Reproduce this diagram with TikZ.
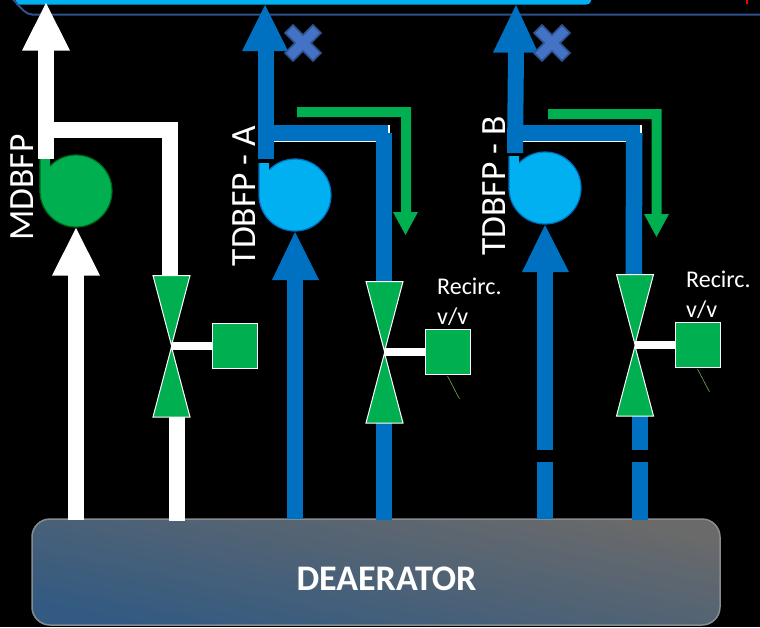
\documentclass[tikz,border=0pt]{standalone}
\usepackage{fontspec}
\setmainfont{Carlito}
\usetikzlibrary{calc}
\definecolor{pipeblue}{HTML}{0070C0}
\definecolor{pumpblue}{HTML}{00B0F0}
\definecolor{vgreen}{HTML}{00B050}
\definecolor{xblue}{HTML}{4472C4}
\definecolor{xedge}{HTML}{2F528F}
\definecolor{railblue}{HTML}{2F528F}
\tikzset{
  wpipe/.style={line width=16pt,white,line join=miter,line cap=butt},
  bpipe/.style={line width=16pt,pipeblue,line join=miter,line cap=butt},
  valvepart/.style={fill=vgreen,draw=white,line width=1pt,line join=miter},
  actuator/.style={rectangle,fill=vgreen,draw=white,line width=1pt,minimum width=45pt,minimum height=45pt,inner sep=0pt},
  stem/.style={line width=8pt,white},
  lead/.style={line width=0.6pt,draw={rgb,255:red,112;green,173;blue,71}},
  crossmark/.style={fill=xblue,draw=xedge,line width=1.5pt,line join=miter},
  biglabel/.style={white,font=\fontsize{35.5pt}{35.5pt}\selectfont,rotate=90,inner sep=0pt},
  smalllabel/.style={white,font=\fontsize{24pt}{28pt}\selectfont,align=left,anchor=north west,inner sep=0pt},
}
\newcommand{\pumpshape}[4]{% cx cy fill edge
  \fill[#3] (#1-36,#2-32) -- (#1-25.9,#2-32) -- (#1-25.9,#2-25)
     arc[start angle=-136,end angle=180,radius=36] -- cycle;
  \draw[#4,line width=1.2pt] (#1-25.9,#2-25)
     arc[start angle=-136,end angle=180,radius=36] -- (#1-36,#2-32);
}
\newcommand{\crossat}[2]{%
  \draw[crossmark,shift={(#1,#2)}] (-18,-10) -- (-10,-18) -- (0,-8) -- (10,-18) -- (18,-10) -- (8,0) -- (18,10) -- (10,18) -- (0,8) -- (-10,18) -- (-18,10) -- (-8,0) -- cycle;
}
\newcommand{\valveat}[3]{% x ytop ybottom
  \draw[valvepart] (#1-18.5,#2) -- (#1+18.5,#2) -- (#1,#2+70) -- cycle;
  \draw[valvepart] (#1-18.5,#3) -- (#1+18.5,#3) -- (#1,#3-70) -- cycle;
}
\begin{document}
\begin{tikzpicture}[x=1pt,y=-1pt]
\useasboundingbox (0,0) rectangle (760,627);
\fill[black] (0,0) rectangle (760,627);

% top rail
\fill[pumpblue] (16,-4) -- (591,-4) -- (591,1) to[out=-90,in=0] (586,4.5) -- (16,4.5) -- cycle;
\draw[railblue,line width=2pt] (6,-1) to[out=70,in=180] (32,14.5) -- (760,14.5);
\fill[red] (745.5,0) rectangle (747.5,3.5);

% deaerator
\node[name=dea,rectangle,rounded corners=18pt,minimum width=688pt,minimum height=106pt,inner sep=0pt,
  draw={rgb,255:red,135;green,140;blue,145},line width=1.5pt,
  top color={rgb,255:red,106;green,106;blue,106},bottom color={rgb,255:red,50;green,90;blue,130},shading angle=-12]
  at (376,572) {};
\node[white,font=\fontsize{36pt}{36pt}\selectfont\bfseries] at (386.5,579) {DEAERATOR};

% MDBFP train
\pumpshape{76}{191}{vgreen}{green!30!black!70!vgreen}
\coordinate (mtee) at (46,129.5);
\draw[wpipe] (46,158.5) -- (46,49);
\fill[white] (22,50.5) -- (70,50.5) -- (46,3) -- cycle;
\draw[wpipe] (mtee) -- (170,129.5) -- (170,276);
\fill[white] (52,275.5) -- (100,275.5) -- (76,228) -- cycle;
\draw[wpipe] (76,274) -- (76,520);
\draw[wpipe] (177,417) -- (177,521);
\valveat{171.5}{275.5}{417}
\node[actuator,name=act1] at (234.5,346) {};
\coordinate (v1) at (171.5,346);
\draw[stem] (v1) -- (act1.west);
\node[biglabel] at (22,187.5) {MDBFP};

% TDBFP-A train
\draw[white,line width=0.8pt] (274,141.4) -- (376,141.4);
\fill[white] (388,125) rectangle (389.5,134);
\pumpshape{295}{195}{pumpblue}{pipeblue}
\draw[bpipe] (266,159) -- (266,50);
\fill[pipeblue] (242,51) -- (288,51) -- (265,5) -- cycle;
\draw[line width=16pt,pipeblue] (266,133) -- (388,133);
\fill[pipeblue] (376,133) rectangle (392,281);
\fill[pipeblue] (376,125) rectangle (388,133);
\fill[pipeblue] (272,280) -- (319,280) -- (295,232) -- cycle;
\draw[bpipe] (295,279) -- (295,519);
\draw[bpipe] (384,423) -- (384,520);
\valveat{384.5}{281.5}{423}
\node[actuator,name=act2] at (447.5,352) {};
\coordinate (v2) at (384.5,352);
\draw[stem] (v2) -- (act2.west);
\draw[lead] ($(act2.south)+(0,1)$) -- +(12,23);
\fill[vgreen] (297,107) -- (411,107) -- (411,212) -- (418,212) -- (405.5,235) -- (393,212) -- (401,212) -- (401,117) -- (297,117) -- cycle;
\node[biglabel] at (244,196) {TDBFP - A};
\node[smalllabel] at (437,278) {Recirc.\\[2pt]v/v};
\crossat{303}{43}

% TDBFP-B train
\draw[white,line width=0.8pt] (523,141.4) -- (626,141.4);
\fill[white] (640,125) rectangle (641.5,133);
\pumpshape{545}{188}{pumpblue}{pipeblue}
\fill[pipeblue] (508,52) -- (524,52) -- (523,153) -- (507,153) -- cycle;
\fill[pipeblue] (493,52.5) -- (538,52.5) -- (516,5) -- cycle;
\fill[pipeblue] (522,125) rectangle (640,141);
\fill[pipeblue] (626,133) -- (642.5,133) -- (642,274) -- (625.5,274) -- cycle;
\fill[pipeblue] (522,272) -- (569,272) -- (545,225) -- cycle;
\draw[bpipe] (545,271) -- (545,449.5);
\draw[bpipe] (545,461.5) -- (545,519);
\draw[bpipe] (639.5,416) -- (639.5,449.5);
\draw[bpipe] (639.5,461.5) -- (639.5,520);
\valveat{635}{274.5}{416}
\node[actuator,name=act3] at (697.5,345) {};
\coordinate (v3) at (635,345);
\draw[stem] (v3) -- (act3.west);
\draw[lead] ($(act3.south)+(0,1)$) -- +(12,23);
\fill[vgreen] (548,109) -- (661.5,109) -- (661.5,214) -- (669,214) -- (656.5,237) -- (644,214) -- (651.5,214) -- (651.5,119) -- (548,119) -- cycle;
\node[biglabel] at (494,186) {TDBFP - B};
\node[smalllabel] at (686,271) {Recirc.\\[2pt]v/v};
\crossat{552}{43}
\end{tikzpicture}
\end{document}
